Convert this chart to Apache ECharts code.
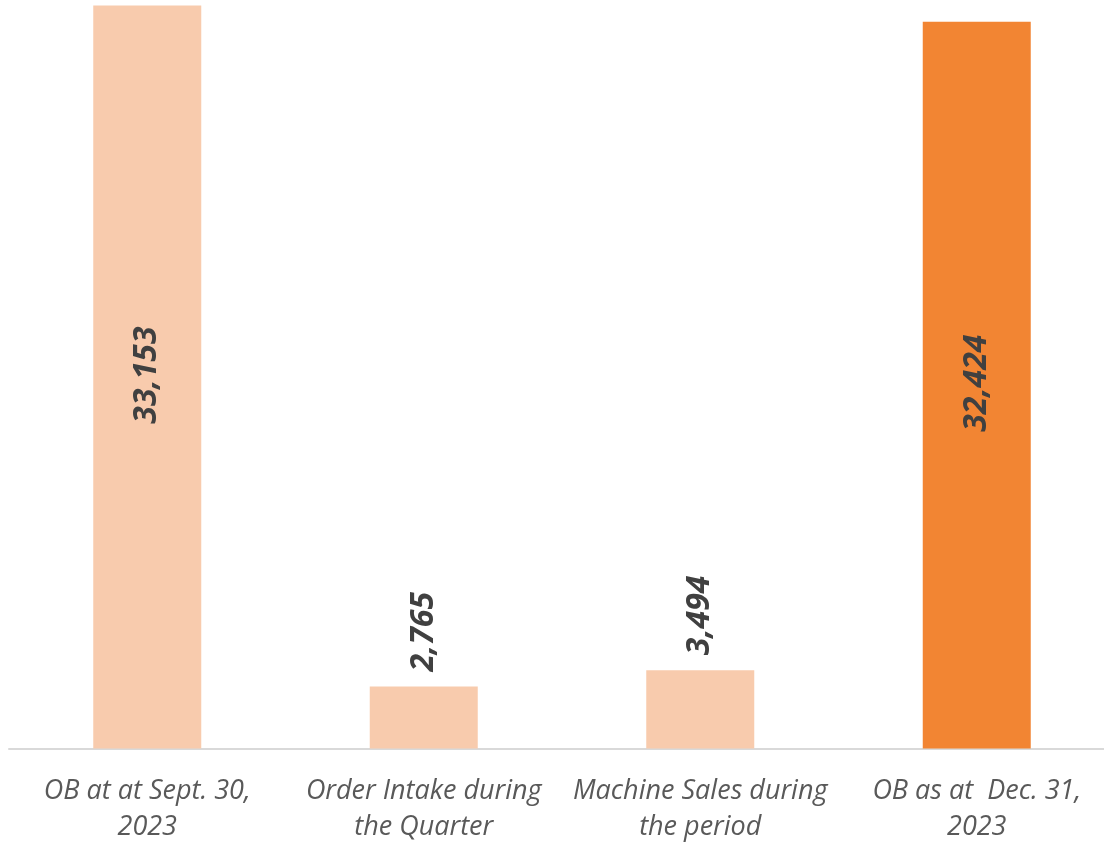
<!DOCTYPE html>
<html>
<head>
<meta charset="utf-8">
<script src="https://cdn.jsdelivr.net/npm/echarts@6/dist/echarts.min.js"></script>
<style>
  html, body { margin: 0; padding: 0; background: #fff; }
  #chart { width: 1104px; height: 845px; }
</style>
</head>
<body>
<div id="chart"></div>
<script>
const categories = [
  'OB at at Sept. 30,\n2023',
  'Order Intake during\nthe Quarter',
  'Machine Sales during\nthe period',
  'OB as at  Dec. 31,\n2023'
];
const values = [33153, 2765, 3494, 32424];
const barColors = ['#F8CBAD', '#F8CBAD', '#F8CBAD', '#F28533'];
const labelInside = [true, false, false, true];

const chart = echarts.init(document.getElementById('chart'));

const labelFont = {
  fontFamily: 'Open Sans',
  fontStyle: 'italic',
  fontWeight: 'bold',
  fontSize: 32,
  color: '#404040'
};

const option = {
  animation: false,
  grid: { left: 9, width: 1106, top: 5.5, bottom: 96.5, outerBoundsMode: 'none', containLabel: false },
  xAxis: {
    type: 'category',
    data: categories,
    axisLine: { lineStyle: { color: '#D9D9D9', width: 2 } },
    axisTick: { show: false },
    axisLabel: {
      interval: 0,
      margin: 25,
      fontFamily: 'Open Sans',
      fontStyle: 'italic',
      fontSize: 27,
      lineHeight: 36,
      color: '#595959'
    }
  },
  yAxis: {
    type: 'value',
    min: 0,
    max: 33153,
    show: false,
    splitLine: { show: false }
  },
  series: [{
    type: 'bar',
    barWidth: 108,
    data: values.map((v, i) => ({
      value: v,
      itemStyle: { color: barColors[i] },
      label: labelInside[i]
        ? Object.assign({ show: true, position: 'inside', rotate: 90, align: 'center', verticalAlign: 'middle', offset: [2, 0] }, labelFont)
        : Object.assign({ show: true, position: 'top', rotate: 90, align: 'left', verticalAlign: 'middle', distance: 15 }, labelFont)
    })),
    label: {
      formatter: p => p.value.toLocaleString('en-US')
    }
  }]
};

chart.setOption(option);
</script>
</body>
</html>
